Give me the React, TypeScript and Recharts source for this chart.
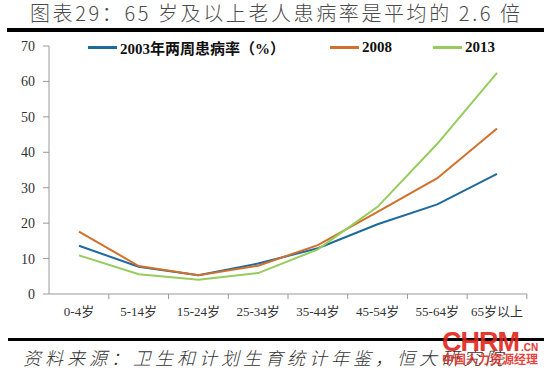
import React from "react";
import {
  LineChart,
  Line,
  XAxis,
  YAxis,
  Legend,
} from "recharts";

const ageGroups = [
  "0-4岁",
  "5-14岁",
  "15-24岁",
  "25-34岁",
  "35-44岁",
  "45-54岁",
  "55-64岁",
  "65岁以上",
];

// 两周患病率 (%)
const rate2003 = [13.6, 7.7, 5.3, 8.6, 12.9, 19.7, 25.3, 33.9];
const rate2008 = [17.6, 7.9, 5.3, 8.0, 13.8, 23.2, 32.7, 46.7];
const rate2013 = [10.9, 5.6, 4.0, 5.9, 12.6, 24.6, 42.4, 62.4];

const yTicks = [0, 10, 20, 30, 40, 50, 60, 70];

const series = [
  { key: "y2003", name: "2003年两周患病率（%）", color: "#1F6A9C", width: 242 },
  { key: "y2008", name: "2008", color: "#D0702B", width: 103 },
  { key: "y2013", name: "2013", color: "#95CC5C", width: 100 },
];

const data = ageGroups.map((age, i) => ({
  age,
  y2003: rate2003[i],
  y2008: rate2008[i],
  y2013: rate2013[i],
}));

const W = 550;
const H = 376;
const margin = { top: 46, right: 23, bottom: 44, left: 9 };
const yAxisW = 40;
const pad = 30;
const plotW = W - margin.left - margin.right - yAxisW;
const band = (plotW - pad * 2) / (ageGroups.length - 1);

const serif = '"Liberation Serif", "Times New Roman", "Noto Sans CJK SC", serif';

function AgeTick(props: any) {
  const { x, y, payload } = props;
  return (
    <g>
      <line x1={x + band / 2} y1={y} x2={x + band / 2} y2={y + 5} stroke="#999" />
      <text
        x={x}
        y={y + 22}
        textAnchor="middle"
        fontSize={13}
        fontFamily={serif}
        fill="#333"
      >
        {payload.value}
      </text>
    </g>
  );
}

function LegendBox() {
  return (
    <div style={{ display: "flex", alignItems: "center", height: 18 }}>
      {series.map((s) => (
        <div
          key={s.key}
          style={{ display: "flex", alignItems: "center", width: s.width }}
        >
          <span
            style={{
              display: "inline-block",
              width: 29,
              height: 3,
              background: s.color,
              marginRight: 3,
            }}
          />
          <span
            style={{
              fontFamily: serif,
              fontWeight: 700,
              fontSize: 15,
              color: "#111",
              whiteSpace: "nowrap",
            }}
          >
            {s.name}
          </span>
        </div>
      ))}
    </div>
  );
}

export default function App() {
  return (
    <div
      style={{
        position: "absolute",
        left: 0,
        top: 0,
        width: W,
        height: H,
        background: "#fff",
        overflow: "hidden",
      }}
    >
      <div
        style={{
          position: "absolute",
          left: 30,
          top: 1,
          fontSize: 20,
          lineHeight: "24px",
          letterSpacing: 2.6,
          color: "#4a4a4a",
          fontFamily: '"Noto Sans CJK SC", sans-serif',
          fontWeight: 300,
          whiteSpace: "nowrap",
        }}
      >
        图表29：65 岁及以上老人患病率是平均的 2.6 倍
      </div>
      <div
        style={{
          position: "absolute",
          left: 7,
          top: 28,
          width: 537,
          height: 4,
          background: "#000",
        }}
      />

      <LineChart width={W} height={H} data={data} margin={margin}>
        <XAxis
          dataKey="age"
          padding={{ left: pad, right: pad }}
          interval={0}
          tickLine={false}
          tickSize={0}
          tickMargin={0}
          axisLine={{ stroke: "#999" }}
          tick={<AgeTick />}
          height={20}
        />
        <YAxis
          domain={[0, 70]}
          ticks={yTicks}
          width={yAxisW}
          tickSize={6}
          tickMargin={8}
          axisLine={{ stroke: "#999" }}
          tickLine={{ stroke: "#999" }}
          tick={{ fontSize: 14, fontFamily: serif, fill: "#333" }}
        />
        <Legend
          content={<LegendBox />}
          wrapperStyle={{ position: "absolute", top: 38, left: 88, width: 460 }}
        />
        {series.map((s) => (
          <Line
            key={s.key}
            type="linear"
            dataKey={s.key}
            name={s.name}
            stroke={s.color}
            strokeWidth={2}
            dot={false}
            isAnimationActive={false}
          />
        ))}
      </LineChart>

      <div
        style={{
          position: "absolute",
          left: 8,
          top: 338,
          width: 536,
          height: 3,
          background: "#000",
        }}
      />
      <div
        style={{
          position: "absolute",
          left: 23,
          top: 345,
          fontSize: 18,
          lineHeight: "24px",
          letterSpacing: 4,
          fontStyle: "italic",
          color: "#333",
          fontFamily: '"Noto Sans CJK SC", sans-serif',
          fontWeight: 300,
          whiteSpace: "nowrap",
        }}
      >
        资料来源：卫生和计划生育统计年鉴，恒大研究院
      </div>

      <div
        style={{
          position: "absolute",
          left: 442,
          top: 328,
          color: "#E2231A",
          fontFamily: '"Liberation Sans", Arial, sans-serif',
          fontWeight: 700,
          fontSize: 27,
          lineHeight: "28px",
          letterSpacing: -1,
          opacity: 0.9,
        }}
      >
        CHRM
        <span style={{ fontSize: 10, letterSpacing: 0, marginLeft: 2 }}>.CN</span>
      </div>
      <div
        style={{
          position: "absolute",
          left: 442,
          top: 352,
          color: "#E2231A",
          fontFamily: '"Noto Sans CJK SC", sans-serif',
          fontWeight: 700,
          fontSize: 12,
          lineHeight: "13px",
          opacity: 0.85,
          whiteSpace: "nowrap",
        }}
      >
        中国人力资源经理
      </div>
    </div>
  );
}
